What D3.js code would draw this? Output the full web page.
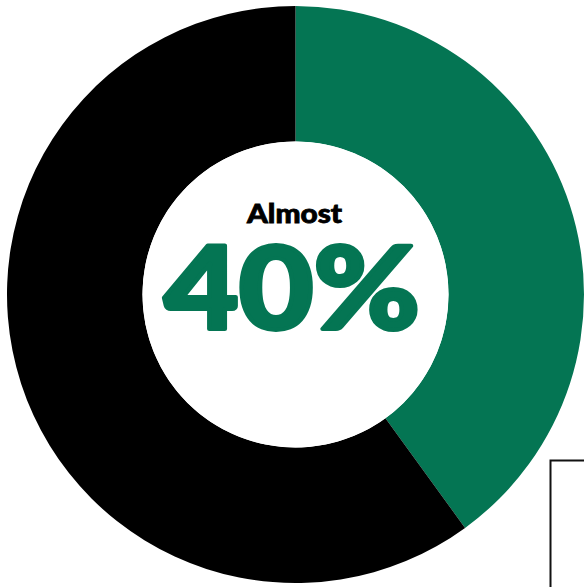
<!DOCTYPE html>
<html>
<head>
<meta charset="utf-8">
<script src="https://cdn.jsdelivr.net/npm/d3@7"></script>
<style>
  body { margin: 0; background: #fff; }
  svg { display: block; }
</style>
</head>
<body>
<svg width="584" height="587"></svg>
<script>
// Data
var categories = ["Share", "Rest"];
var values = [40, 60];
var colors = ["#047553", "#000000"];
var labelTop = "Almost";
var labelBig = "40%";

var svg = d3.select("svg"),
	width = +svg.attr("width"),
	height = +svg.attr("height");

var cx = 295.5, cy = 294.5;
var outerR = 288.5, innerR = 153;

// frame box at bottom right
svg.append("rect")
	.attr("x", 550.5)
	.attr("y", 460.5)
	.attr("width", 60)
	.attr("height", 200)
	.attr("fill", "none")
	.attr("stroke", "#111")
	.attr("stroke-width", 2);

var pie = d3.pie().sort(null).value(function (d) { return d; });
var arc = d3.arc().innerRadius(innerR).outerRadius(outerR);

var g = svg.append("g").attr("transform", "translate(" + cx + "," + cy + ")");

g.selectAll("path")
	.data(pie(values))
	.enter()
	.append("path")
	.attr("d", arc)
	.attr("fill", function (d, i) { return colors[i]; })
	.attr("class", function (d, i) { return "slice " + categories[i]; });

g.append("circle").attr("r", innerR).attr("fill", "#fff");

g.append("text")
	.attr("x", -1)
	.attr("y", 222.5 - cy)
	.attr("text-anchor", "middle")
	.attr("font-family", "Lato")
	.attr("font-weight", 900)
	.attr("font-size", 26)
	.attr("textLength", 95)
	.attr("lengthAdjust", "spacingAndGlyphs")
	.attr("fill", "#000")
	.attr("stroke", "#000")
	.attr("stroke-width", 0.8)
	.text(labelTop);

g.append("text")
	.attr("x", 292 - cx)
	.attr("y", 329 - cy)
	.attr("text-anchor", "middle")
	.attr("font-family", "Lato")
	.attr("font-weight", 900)
	.attr("font-size", 114)
	.attr("textLength", 256)
	.attr("lengthAdjust", "spacingAndGlyphs")
	.attr("fill", colors[0])
	.attr("stroke", colors[0])
	.attr("stroke-width", 4)
	.attr("stroke-linejoin", "round")
	.text(labelBig);
</script>
</body>
</html>
